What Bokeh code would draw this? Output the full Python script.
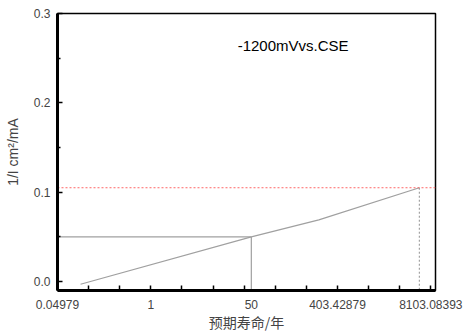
from bokeh.plotting import figure
from bokeh.models import FixedTicker, Label, Range1d
from bokeh.embed import file_html
from bokeh.resources import INLINE

# x values are ln(years)
curve_x = [-2.26, 3.23, 5.4, 8.63]
curve_y = [-0.003, 0.05, 0.069, 0.105]
mark_x = 3.23          # "50" years
mark_y = 0.05
end_x = 8.63
end_y = 0.105
x_tick_pos = [-3, 0, 3.23, 6, 9]
x_tick_labels = ["0.04979", "1", "50", "403.42879", "8103.08393"]
x_minor = list(range(-3, 10))
y_ticks = [0.0, 0.1, 0.2, 0.3]
y_minor = [0.05, 0.15, 0.25]
note = "-1200mVvs.CSE"

FONT = "Liberation Sans"

p = figure(width=467, height=334, output_backend="svg", toolbar_location=None,
           x_range=Range1d(-3, 9.15), y_range=Range1d(-0.01, 0.3),
           min_border_left=57, min_border_right=32, min_border_top=13, min_border_bottom=42)
p.xgrid.visible = False
p.ygrid.visible = False
p.outline_line_color = "black"
p.outline_line_width = 1.5
p.background_fill_color = "white"

# curve
p.line(curve_x, curve_y, line_color="#a0a0a0", line_width=1.2)
# reference lines at 50
p.line([-3, mark_x], [mark_y, mark_y], line_color="#a0a0a0", line_width=1.2)
p.line([mark_x, mark_x], [mark_y, -0.01], line_color="#a0a0a0", line_width=1.2)
# red dotted horizontal
p.line([-3, 9.15], [end_y, end_y], line_color="#ff6666", line_width=1, line_dash="2 2")
# grey dotted vertical
p.line([end_x, end_x], [end_y, -0.01], line_color="#909090", line_width=1, line_dash="2 2")

p.add_layout(Label(x=2.79, y=0.264, text=note, text_font=FONT, text_font_size="15px",
                   text_baseline="middle", text_color="black"))

xa = p.xaxis[0]
xa.ticker = FixedTicker(ticks=x_tick_pos, minor_ticks=x_minor)
xa.major_label_overrides = {t: l for t, l in zip(x_tick_pos, x_tick_labels)}
xa.major_tick_in = 0
xa.major_tick_out = 0
xa.minor_tick_in = 5
xa.minor_tick_out = 0
xa.minor_tick_line_color = "black"
xa.minor_tick_line_width = 1.5
xa.axis_line_width = 3
xa.major_label_text_font = FONT
xa.major_label_text_font_size = "12px"
xa.major_label_standoff = 9
xa.axis_label = "预期寿命/年"
xa.axis_label_text_font = "Noto Sans CJK SC"
xa.axis_label_text_font_style = "normal"
xa.axis_label_text_font_size = "14px"
xa.axis_label_standoff = 0

ya = p.yaxis[0]
ya.ticker = FixedTicker(ticks=y_ticks, minor_ticks=y_minor)
ya.formatter.use_scientific = False
ya.major_label_overrides = {0.0: "0.0", 0.1: "0.1", 0.2: "0.2", 0.3: "0.3"}
ya.major_tick_in = 5
ya.major_tick_out = 0
ya.major_tick_line_width = 1.5
ya.minor_tick_in = 3
ya.minor_tick_out = 0
ya.minor_tick_line_width = 1.5
ya.axis_line_width = 3
ya.major_label_text_font = FONT
ya.major_label_text_font_size = "12px"
ya.major_label_standoff = 7
ya.axis_label = "1/I cm²/mA"
ya.axis_label_text_font = FONT
ya.axis_label_text_font_style = "normal"
ya.axis_label_text_font_size = "14px"
ya.axis_label_standoff = 10

open("out.html", "w").write(file_html(p, INLINE))
